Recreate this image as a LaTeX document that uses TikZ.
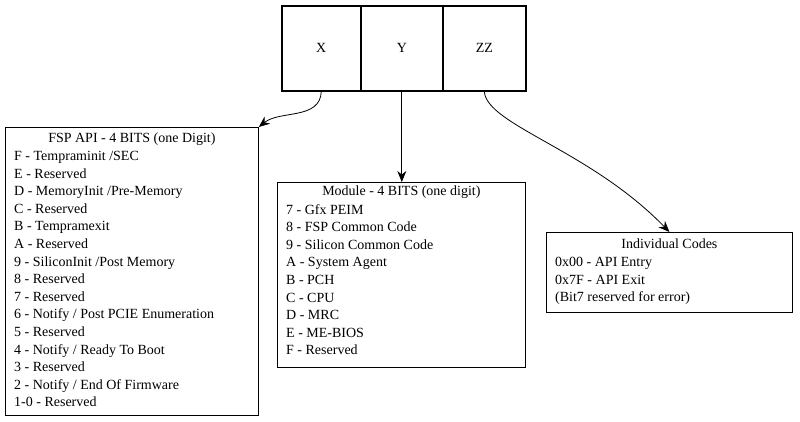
\documentclass[tikz,border=0pt]{standalone}
\usepackage{fontspec}
\setmainfont{Liberation Serif}
\usetikzlibrary{arrows.meta}
\begin{document}
\begin{tikzpicture}[x=1pt,y=1pt,
  box/.style={draw,line width=0.8pt,anchor=north west,inner sep=0pt},
  fnt/.style={font=\fontsize{14}{17.6}\selectfont},
  ttl/.style={fnt,anchor=north,inner sep=0pt},
  txt/.style={fnt,anchor=north west,inner sep=0pt,align=left},
  cell/.style={draw,line width=1.6pt,minimum height=85pt,inner sep=0pt,fnt},
  arr/.style={-{Stealth[length=11pt,width=9pt]},line width=0.8pt}]
\useasboundingbox (0,0) rectangle (800,-421);
\node[cell,minimum width=79pt,anchor=north west] (x) at (281,-5) {X};
\node[cell,minimum width=82pt,anchor=north west] (y) at (360,-5) {Y};
\node[cell,minimum width=83pt,anchor=north west] (z) at (442,-5) {ZZ};
\node[box,minimum width=253pt,minimum height=288pt] (api) at (5,-127) {};
\node[box,minimum width=248pt,minimum height=185pt] (mod) at (277,-182) {};
\node[box,minimum width=246pt,minimum height=80pt] (ind) at (546,-232) {};
\node[ttl] (apit) at ([yshift=-6pt]api.north) {FSP API - 4 BITS (one Digit)};
\node[txt] (apil) at ([xshift=9pt,yshift=-24pt]api.north west) {F - Tempraminit /SEC\\E - Reserved\\D - MemoryInit /Pre-Memory\\C - Reserved\\B - Tempramexit\\A - Reserved\\9 - SiliconInit /Post Memory\\8 - Reserved\\7 - Reserved\\6 - Notify / Post PCIE Enumeration\\5 - Reserved\\4 - Notify / Ready To Boot\\3 - Reserved\\2 - Notify / End Of Firmware\\1-0 - Reserved};
\node[ttl] (modt) at ([yshift=-4pt]mod.north) {Module - 4 BITS (one digit)};
\node[txt] (modl) at ([xshift=9pt,yshift=-22pt]mod.north west) {7 - Gfx PEIM\\8 - FSP Common Code\\9 - Silicon Common Code\\A - System Agent\\B - PCH\\C - CPU\\D - MRC\\E - ME-BIOS\\F - Reserved};
\node[ttl] (indt) at ([yshift=-7pt]ind.north) {Individual Codes};
\node[txt] (indl) at ([xshift=9pt,yshift=-25pt]ind.north west) {0x00 - API Entry\\0x7F - API Exit\\(Bit7 reserved for error)};
\draw[arr] (x.south) .. controls (320,-120) and (280,-110) .. (api.north east);
\draw[arr] (y.south) -- (mod.north -| y.south);
\draw[arr] (z.south) .. controls (487,-125) and (590,-150) .. (ind.north);
\end{tikzpicture}
\end{document}
